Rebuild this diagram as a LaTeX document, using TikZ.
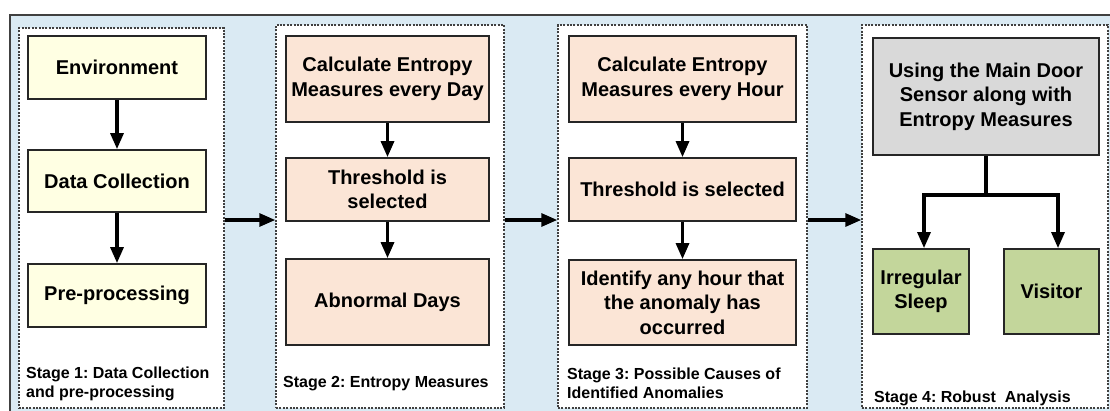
\documentclass[tikz,border=0pt]{standalone}
\usepackage{fontspec}
\setmainfont{Liberation Sans}
\usetikzlibrary{arrows.meta,calc}
\definecolor{bgblue}{HTML}{DAEAF3}
\definecolor{cream}{HTML}{FFFFE3}
\definecolor{peach}{HTML}{FBE5D6}
\definecolor{greyfill}{HTML}{D9D9D9}
\definecolor{greenfill}{HTML}{C3D69B}
\definecolor{framegrey}{HTML}{404040}
\frenchspacing
\begin{document}
\begin{tikzpicture}[x=1pt,y=-1pt,
  stagebox/.style={draw=framegrey,fill=white,line width=1.5pt,dash pattern=on 2pt off 1.4pt,inner sep=0pt,rectangle},
  proc/.style={draw=black!85,line width=1.8pt,rectangle,inner sep=2pt,align=center,
    font=\fontsize{20}{24.5}\selectfont\bfseries,text=black},
  lbl/.style={font=\fontsize{16}{19}\selectfont\bfseries,align=left,inner sep=0pt,anchor=west,text=black},
  arr/.style={-{Triangle[length=16pt,width=13pt]},line width=3.2pt,black},
  link/.style={line width=3.2pt,black}
]
\useasboundingbox (0,0) rectangle (1110,410);
\fill[white] (0,0) rectangle (1110,410);
\filldraw[fill=bgblue,draw=framegrey,line width=1.4pt] (10,15) rectangle (1125,425);

% stage frames
\node[stagebox,minimum width=205pt,minimum height=380pt] (s1) at (121.5,218) {};
\node[stagebox,minimum width=228pt,minimum height=383pt] (s2) at (390,216.5) {};
\node[stagebox,minimum width=249pt,minimum height=383pt] (s3) at (682.5,216.5) {};
\node[stagebox,minimum width=246pt,minimum height=383pt] (s4) at (985,216.5) {};

% stage 1
\node[proc,fill=cream,minimum width=178pt,minimum height=63pt] (env) at (117,67.5) {Environment};
\node[proc,fill=cream,minimum width=178pt,minimum height=62pt] (dc) at (117,181) {Data Collection};
\node[proc,fill=cream,minimum width=178pt,minimum height=63pt] (pp) at (117,295.5) {Pre-processing};
\draw[arr] (env) -- (dc);
\draw[arr] (dc) -- (pp);
\node[lbl] (l1) at (26,383.5) {Stage 1: Data Collection\\and pre-processing};

% stage 2
\node[proc,fill=peach,minimum width=203pt,minimum height=86pt] (c2) at (387.5,79) {Calculate Entropy\\Measures every Day};
\node[proc,fill=peach,minimum width=203pt,minimum height=63pt] (t2) at (387.5,189.5) {Threshold is\\selected};
\node[proc,fill=peach,minimum width=203pt,minimum height=86pt] (a2) at (387.5,302) {Abnormal Days};
\draw[arr] (c2) -- (t2);
\draw[arr] (t2) -- (a2);
\node[lbl] (l2) at (283,384) {Stage 2: Entropy Measures};

% stage 3
\node[proc,fill=peach,minimum width=227pt,minimum height=86pt] (c3) at (682.5,79) {Calculate Entropy\\Measures every Hour};
\node[proc,fill=peach,minimum width=227pt,minimum height=63pt] (t3) at (682.5,189.5) {Threshold is selected};
\node[proc,fill=peach,minimum width=227pt,minimum height=85pt] (i3) at (682.5,302.5) {Identify any hour that\\the anomaly has\\occurred};
\draw[arr] (c3) -- (t3);
\draw[arr] (t3) -- (i3);
\node[lbl] (l3) at (567,383.5) {Stage 3: Possible Causes of\\Identified Anomalies};

% stage 4
\node[proc,fill=greyfill,minimum width=226pt,minimum height=117pt] (door) at (986,96.5) {Using the Main Door\\Sensor along with\\Entropy Measures};
\node[proc,fill=greenfill,minimum width=96pt,minimum height=85pt] (irr) at (921,291.5) {Irregular\\Sleep};
\node[proc,fill=greenfill,minimum width=95pt,minimum height=85pt] (vis) at (1051.5,291.5) {Visitor};
\coordinate (j) at (986,195);
\draw[link] (door.south) -- (j);
\draw[arr] (j) -| ([xshift=3pt]irr.north);
\draw[arr] (j) -| ([xshift=6.5pt]vis.north);
\node[lbl] (l4) at (874,398) {Stage 4: Robust\ \ Analysis};

% inter-stage arrows
\draw[arr] (s1.east |- 0,220) -- (s2.west |- 0,220);
\draw[arr] (s2.east |- 0,220) -- (s3.west |- 0,220);
\draw[arr] (s3.east |- 0,220) -- (s4.west |- 0,220);
\end{tikzpicture}
\end{document}
